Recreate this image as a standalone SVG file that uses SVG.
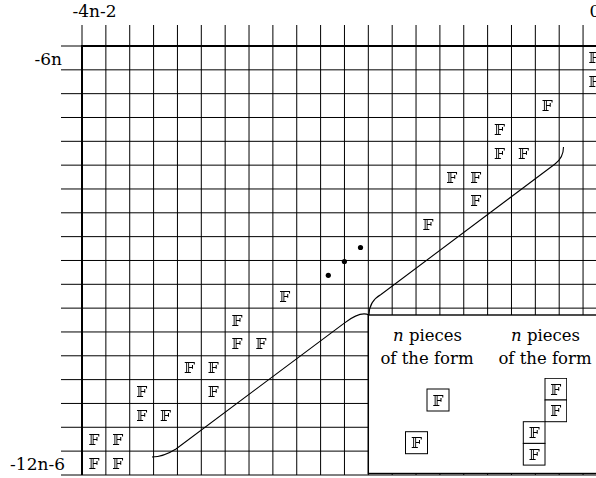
<svg xmlns="http://www.w3.org/2000/svg" width="596" height="478" viewBox="0 0 596 478">
<style>
.grid{fill:none;stroke:#000;stroke-width:1}
.frame{fill:none;stroke:#000;stroke-width:2}
.lbl{font-family:"DejaVu Serif",serif;font-size:17px;fill:#000}
.F{font-family:"DejaVu Serif","DejaVu Sans",serif;font-size:15.5px;fill:#000;text-anchor:middle}
.txt{font-family:"DejaVu Serif",serif;font-size:16.5px;fill:#000;text-anchor:middle}
.pc{fill:#fff;stroke:#000;stroke-width:1}
.brace{fill:none;stroke:#000;stroke-width:1.1}
</style>
<defs>
<filter id="gray" x="0" y="0" width="1" height="1" filterUnits="objectBoundingBox">
<feColorMatrix type="saturate" values="0"/>
</filter>
</defs>
<rect width="596" height="478" fill="#fff"/>
<g id="grid">
<path class="grid" d="M82,25V46 M105.86,25V475 M129.72,25V475 M153.58,25V475 M177.44,25V475 M201.3,25V475 M225.16,25V475 M249.02,25V475 M272.88,25V475 M296.74,25V475 M320.6,25V475 M344.46,25V475 M368.32,25V475 M392.18,25V475 M416.04,25V475 M439.9,25V475 M463.76,25V475 M487.62,25V475 M511.48,25V475 M535.34,25V475 M559.2,25V475 M583.06,25V475"/>
<path class="grid" d="M61,46H82 M61,69.83H596 M61,93.66H596 M61,117.49H596 M61,141.32H596 M61,165.15H596 M61,188.98H596 M61,212.81H596 M61,236.64H596 M61,260.47H596 M61,284.3H596 M61,308.13H596 M61,331.96H596 M61,355.79H596 M61,379.62H596 M61,403.45H596 M61,427.28H596 M61,451.11H596"/>
<path class="frame" d="M596,46H82V475"/>
</g>
<g id="labels">
<text class="lbl" x="94.5" y="17" text-anchor="middle">-4n-2</text>
<text class="lbl" x="595" y="17" text-anchor="middle">0</text>
<text class="lbl" x="62" y="65" text-anchor="end">-6n</text>
<text class="lbl" x="65" y="470" text-anchor="end">-12n-6</text>
</g>
<g id="cells" filter="url(#gray)">
<g id="f-r0-c21"><text class="F" x="594" y="63.4">𝔽</text></g>
<g id="f-r1-c21"><text class="F" x="594" y="87.2">𝔽</text></g>
<g id="f-r2-c19"><text class="F" x="547.3" y="111.1">𝔽</text></g>
<g id="f-r3-c17"><text class="F" x="499.6" y="134.9">𝔽</text></g>
<g id="f-r4-c17"><text class="F" x="499.6" y="158.7">𝔽</text></g>
<g id="f-r4-c18"><text class="F" x="523.4" y="158.7">𝔽</text></g>
<g id="f-r5-c15"><text class="F" x="451.8" y="182.6">𝔽</text></g>
<g id="f-r5-c16"><text class="F" x="475.7" y="182.6">𝔽</text></g>
<g id="f-r6-c16"><text class="F" x="475.7" y="206.4">𝔽</text></g>
<g id="f-r7-c14"><text class="F" x="428" y="230.2">𝔽</text></g>
<g id="f-r10-c8"><text class="F" x="284.8" y="301.7">𝔽</text></g>
<g id="f-r11-c6"><text class="F" x="237.1" y="325.5">𝔽</text></g>
<g id="f-r12-c6"><text class="F" x="237.1" y="349.4">𝔽</text></g>
<g id="f-r12-c7"><text class="F" x="261" y="349.4">𝔽</text></g>
<g id="f-r13-c4"><text class="F" x="189.4" y="373.2">𝔽</text></g>
<g id="f-r13-c5"><text class="F" x="213.2" y="373.2">𝔽</text></g>
<g id="f-r14-c2"><text class="F" x="141.7" y="397">𝔽</text></g>
<g id="f-r14-c5"><text class="F" x="213.2" y="397">𝔽</text></g>
<g id="f-r15-c2"><text class="F" x="141.7" y="420.9">𝔽</text></g>
<g id="f-r15-c3"><text class="F" x="165.5" y="420.9">𝔽</text></g>
<g id="f-r16-c0"><text class="F" x="93.9" y="444.7">𝔽</text></g>
<g id="f-r16-c1"><text class="F" x="117.8" y="444.7">𝔽</text></g>
<g id="f-r17-c0"><text class="F" x="93.9" y="468.5">𝔽</text></g>
<g id="f-r17-c1"><text class="F" x="117.8" y="468.5">𝔽</text></g>
</g>
<g id="dots">
<circle cx="328.3" cy="275.3" r="2.6"/>
<circle cx="344.4" cy="261.5" r="2.6"/>
<circle cx="360.5" cy="247.5" r="2.6"/>
</g>
<g id="legend-box">
<rect x="368.32" y="315" width="240" height="158.5" fill="#fff" stroke="#000" stroke-width="1.4"/>
<text class="txt" x="427.5" y="341"><tspan font-style="italic">n</tspan> pieces</text>
<text class="txt" x="427" y="364">of the form</text>
<text class="txt" x="545.5" y="341"><tspan font-style="italic">n</tspan> pieces</text>
<text class="txt" x="545" y="364">of the form</text>
</g>
<g id="pieces" filter="url(#gray)">
<g id="piece-single-1"><rect class="pc" x="427" y="389" width="22" height="22"/><text class="F" x="438" y="405.5">𝔽</text></g>
<g id="piece-single-2"><rect class="pc" x="405.5" y="431.7" width="22" height="22"/><text class="F" x="416.5" y="448.2">𝔽</text></g>
<g id="piece-quad">
<rect class="pc" x="545" y="378.3" width="21.7" height="21.7"/><text class="F" x="555.85" y="394.65">𝔽</text>
<rect class="pc" x="545" y="400" width="21.7" height="21.7"/><text class="F" x="555.85" y="416.35">𝔽</text>
<rect class="pc" x="523.3" y="421.7" width="21.7" height="21.7"/><text class="F" x="534.15" y="438.05">𝔽</text>
<rect class="pc" x="523.3" y="443.4" width="21.7" height="21.7"/><text class="F" x="534.15" y="459.75">𝔽</text>
</g>
</g>
<line x1="61" y1="475" x2="596" y2="475" stroke="#000" stroke-width="1"/>
<g id="connectors">
<path class="brace" d="M369,315 C369,305 373,299 381,294.5 L555,164 C561,159.5 563.5,155 563.5,147"/>
<path class="brace" d="M369,315 C363,312 355,315 345,322.6 L176,449 C168,454 160,457 152,457"/>
</g>
</svg>
